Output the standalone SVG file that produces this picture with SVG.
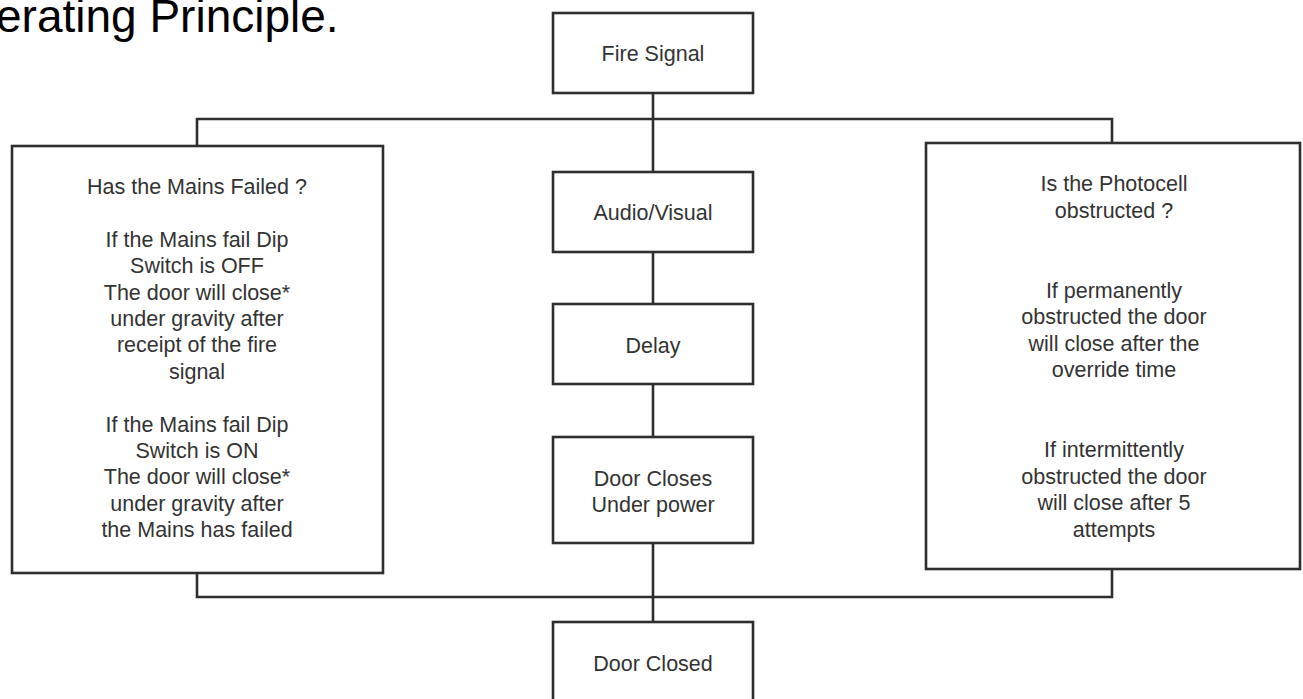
<svg xmlns="http://www.w3.org/2000/svg" width="1303" height="699" viewBox="0 0 1303 699">
<style>
.box{fill:#fff;stroke:#2e2e2e;stroke-width:2.6}
.con{fill:none;stroke:#2e2e2e;stroke-width:2.6}
.t{font-family:"Liberation Sans",Arial,sans-serif;font-size:21.5px;fill:#333;text-anchor:middle}
.title{font-family:"Liberation Sans",Arial,sans-serif;font-size:46px;fill:#000}
</style>
<rect width="1303" height="699" fill="#fff"/>
<text class="title" x="-4" y="32">erating Principle.</text>
<g id="connectors">
<path class="con" d="M653 93V172"/>
<path class="con" d="M197 146V119H1112V143"/>
<path class="con" d="M653 252V304"/>
<path class="con" d="M653 384V437"/>
<path class="con" d="M653 543V622"/>
<path class="con" d="M197 573V597H1112V569"/>
</g>
<g id="fire-signal">
<rect class="box" x="553" y="13" width="200" height="80"/>
<text class="t" x="653" y="60.5">Fire Signal</text>
</g>
<g id="audio-visual">
<rect class="box" x="553" y="172" width="200" height="80"/>
<text class="t" x="653" y="219.5">Audio/Visual</text>
</g>
<g id="delay">
<rect class="box" x="553" y="304" width="200" height="80"/>
<text class="t" x="653" y="352.5">Delay</text>
</g>
<g id="door-closes">
<rect class="box" x="553" y="437" width="200" height="106"/>
<text class="t" x="653" y="485.5">Door Closes</text>
<text class="t" x="653" y="511.5">Under power</text>
</g>
<g id="door-closed">
<rect class="box" x="553" y="622" width="200" height="82"/>
<text class="t" x="653" y="670.5">Door Closed</text>
</g>
<g id="mains-failed">
<rect class="box" x="12" y="146" width="371" height="427"/>
<text class="t" x="197" y="194">Has the Mains Failed ?</text>
<text class="t" x="197" y="246.8">If the Mains fail Dip</text>
<text class="t" x="197" y="273.2">Switch is OFF</text>
<text class="t" x="197" y="299.6">The door will close*</text>
<text class="t" x="197" y="326">under gravity after</text>
<text class="t" x="197" y="352.4">receipt of the fire</text>
<text class="t" x="197" y="378.8">signal</text>
<text class="t" x="197" y="431.6">If the Mains fail Dip</text>
<text class="t" x="197" y="458">Switch is ON</text>
<text class="t" x="197" y="484.4">The door will close*</text>
<text class="t" x="197" y="510.8">under gravity after</text>
<text class="t" x="197" y="537.2">the Mains has failed</text>
</g>
<g id="photocell">
<rect class="box" x="926" y="143" width="374" height="426"/>
<text class="t" x="1114" y="191">Is the Photocell</text>
<text class="t" x="1114" y="217.5">obstructed ?</text>
<text class="t" x="1114" y="297.5">If permanently</text>
<text class="t" x="1114" y="324">obstructed the door</text>
<text class="t" x="1114" y="350.5">will close after the</text>
<text class="t" x="1114" y="377">override time</text>
<text class="t" x="1114" y="457">If intermittently</text>
<text class="t" x="1114" y="483.5">obstructed the door</text>
<text class="t" x="1114" y="510">will close after 5</text>
<text class="t" x="1114" y="536.5">attempts</text>
</g>
</svg>
